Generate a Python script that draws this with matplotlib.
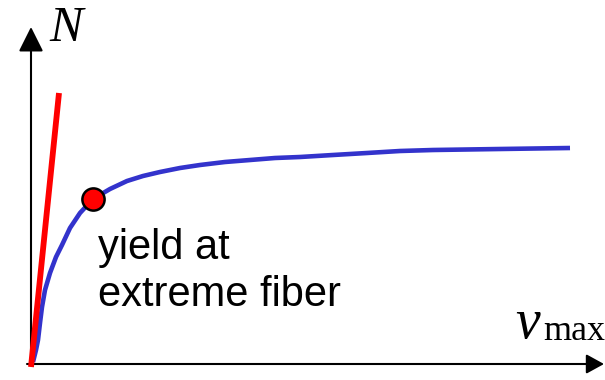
import matplotlib
matplotlib.use("Agg")
import matplotlib.pyplot as plt

# data (origin at the axes corner, units ~ pixels)
v_curve = [2, 5, 7, 9, 11, 14, 19, 25, 31, 39, 49, 62, 79, 96, 112, 129,
           149, 169, 194, 219, 244, 269, 302, 336, 369, 402, 469, 539]
N_curve = [2, 14, 24, 41, 57, 74, 91, 107, 119, 136, 151, 165, 175, 183, 188, 192,
           196, 199, 202, 204, 206, 207, 209, 211, 213, 214, 215, 216]
v_elastic = [0, 28]
N_elastic = [-3, 271]
v_yield, N_yield = 62, 165

fig = plt.figure(figsize=(6.05, 3.8), dpi=100)
ax = fig.add_axes([0, 0, 1, 1])
ax.set_xlim(-31, 574)
ax.set_ylim(-16, 364)
ax.axis("off")

# axes with arrow heads
ax.annotate("", xy=(0, 337), xytext=(0, -1),
            arrowprops=dict(arrowstyle="-|>,head_length=0.4,head_width=0.2",
                            mutation_scale=38, lw=1.5, color="black",
                            shrinkA=0, shrinkB=0))
ax.annotate("", xy=(573, 0), xytext=(-4, 0),
            arrowprops=dict(arrowstyle="-|>,head_length=0.4,head_width=0.22",
                            mutation_scale=27, lw=1.5, color="black",
                            shrinkA=0, shrinkB=0))

ax.plot(v_curve, N_curve, color="#3333CC", lw=3.3, solid_capstyle="butt",
        solid_joinstyle="round", zorder=3)
ax.plot(v_elastic, N_elastic, color="#FF0000", lw=4.2, solid_capstyle="butt", zorder=4)
ax.plot([v_yield], [N_yield], "o", ms=16, mfc="#FF0000", mec="black", mew=1.8, zorder=5)

ax.text(18, 323, "N", family="Liberation Serif", style="italic", fontsize=36,
        va="baseline", ha="left")
ax.text(484, 26, "v", family="Liberation Serif", style="italic", fontsize=40,
        va="baseline", ha="left")
ax.text(512, 24, "max", family="Liberation Serif", fontsize=26,
        va="baseline", ha="left")
ax.text(67, 58, "yield at\nextreme fiber", family="Liberation Sans", fontsize=30,
        va="baseline", ha="left", linespacing=1.22)

fig.savefig("out.png", dpi=100)
